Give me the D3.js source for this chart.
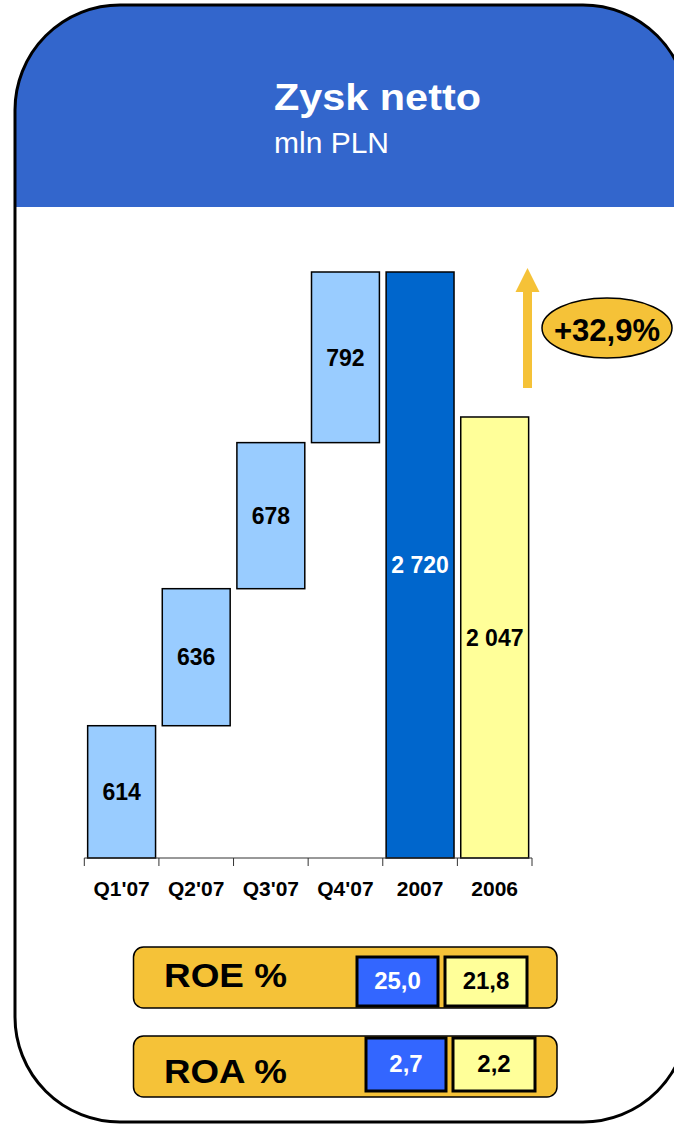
<!DOCTYPE html>
<html>
<head>
<meta charset="utf-8">
<script src="https://cdn.jsdelivr.net/npm/d3@7"></script>
<style>
  html, body { margin: 0; padding: 0; background: #fff; }
  svg { display: block; font-family: "Liberation Sans", Arial, sans-serif; }
</style>
</head>
<body>
<svg id="chart" width="674" height="1126"></svg>
<script>
// Net profit, PLN millions: quarterly waterfall for 2007 and yearly totals
const categories = ["Q1'07", "Q2'07", "Q3'07", "Q4'07", "2007", "2006"];
const quarterValues = [614, 636, 678, 792];
const totalValues = [2720, 2047];           // 2007, 2006
const growthLabel = "+32,9%";

// Return ratios shown below the chart
const ratioNames = ["ROE %", "ROA %"];
const ratios2007 = [25.0, 2.7];
const ratios2006 = [21.8, 2.2];

const titleText = "Zysk netto";
const subtitleText = "mln PLN";

const colors = {
  header: "#3366CC",
  quarter: "#99CCFF",
  y2007: "#0066CC",
  y2006: "#FFFF99",
  accent: "#F5C238",
  ratioBlue: "#3366FF"
};

const svg = d3.select("#chart");
const fmt = v => d3.format(".1f")(v).replace(".", ",");
const fmtThousands = v => {
  const s = String(v);
  return s.length > 3 ? s.slice(0, s.length - 3) + " " + s.slice(-3) : s;
};

// Panel frame with rounded corners and blue header
const frame = { x: 15, y: 5, w: 673, h: 1117, r: 105 };
svg.append("defs").append("clipPath").attr("id", "frameClip")
  .append("rect")
  .attr("x", frame.x).attr("y", frame.y)
  .attr("width", frame.w).attr("height", frame.h)
  .attr("rx", frame.r).attr("ry", frame.r);

svg.append("rect")
  .attr("x", frame.x).attr("y", frame.y)
  .attr("width", frame.w).attr("height", frame.h)
  .attr("rx", frame.r).attr("ry", frame.r)
  .attr("fill", "#fff");

svg.append("rect")
  .attr("clip-path", "url(#frameClip)")
  .attr("x", 0).attr("y", 0)
  .attr("width", 700).attr("height", 207)
  .attr("fill", colors.header);

svg.append("rect")
  .attr("x", frame.x).attr("y", frame.y)
  .attr("width", frame.w).attr("height", frame.h)
  .attr("rx", frame.r).attr("ry", frame.r)
  .attr("fill", "none").attr("stroke", "#000").attr("stroke-width", 3);

svg.append("text")
  .attr("x", 274).attr("y", 110)
  .attr("fill", "#fff").attr("font-size", 36).attr("font-weight", "bold")
  .attr("textLength", 207).attr("lengthAdjust", "spacingAndGlyphs")
  .text(titleText);
svg.append("text")
  .attr("x", 274).attr("y", 153)
  .attr("fill", "#fff").attr("font-size", 30)
  .text(subtitleText);

// Scales
const x = d3.scaleBand().domain(categories).range([84.3, 532]).paddingInner(0.09).paddingOuter(0.045);
const y = d3.scaleLinear().domain([0, 2720]).range([858, 272]);

// Build bar records: floating quarter bars then the two totals
let running = 0;
const bars = quarterValues.map((v, i) => {
  const rec = { cat: categories[i], start: running, end: running + v, value: v, fill: colors.quarter, text: "#000" };
  running += v;
  return rec;
});
bars.push({ cat: categories[4], start: 0, end: totalValues[0], value: totalValues[0], fill: colors.y2007, text: "#fff" });
bars.push({ cat: categories[5], start: 0, end: totalValues[1], value: totalValues[1], fill: colors.y2006, text: "#000" });

const g = svg.append("g");
g.selectAll("rect.bar").data(bars).join("rect")
  .attr("class", "bar")
  .attr("x", d => x(d.cat))
  .attr("y", d => y(d.end))
  .attr("width", x.bandwidth())
  .attr("height", d => y(d.start) - y(d.end))
  .attr("fill", d => d.fill)
  .attr("stroke", "#000").attr("stroke-width", 1.5);

g.selectAll("text.val").data(bars).join("text")
  .attr("class", "val")
  .attr("x", d => x(d.cat) + x.bandwidth() / 2)
  .attr("y", d => (y(d.start) + y(d.end)) / 2)
  .attr("dy", "0.36em")
  .attr("text-anchor", "middle")
  .attr("font-size", 23).attr("font-weight", "bold")
  .attr("fill", d => d.text)
  .text(d => fmtThousands(d.value));

// Category axis with tick marks between bands
const axisY = y(0);
g.append("line")
  .attr("x1", x.range()[0]).attr("x2", x.range()[1])
  .attr("y1", axisY).attr("y2", axisY)
  .attr("stroke", "#333").attr("stroke-width", 1);
const tickXs = categories.map(c => x(c) - x.step() * x.paddingInner() / 2);
tickXs[0] = x.range()[0];
tickXs.push(x.range()[1]);
g.selectAll("line.tick").data(tickXs).join("line")
  .attr("class", "tick")
  .attr("x1", d => d).attr("x2", d => d)
  .attr("y1", axisY).attr("y2", axisY + 8)
  .attr("stroke", "#333").attr("stroke-width", 1);
g.selectAll("text.cat").data(categories).join("text")
  .attr("class", "cat")
  .attr("x", d => x(d) + x.bandwidth() / 2)
  .attr("y", 896)
  .attr("text-anchor", "middle")
  .attr("font-size", 21).attr("font-weight", "bold")
  .text(d => d);

// Growth arrow and badge
const arrowX = 527.5;
const arrowTop = 268, headBase = 292, arrowBottom = y(totalValues[1]) - 29;
svg.append("rect")
  .attr("x", arrowX - 4.5).attr("y", headBase - 1)
  .attr("width", 9).attr("height", arrowBottom - headBase + 1)
  .attr("fill", colors.accent);
svg.append("path")
  .attr("d", `M${arrowX - 12},${headBase} L${arrowX},${arrowTop} L${arrowX + 12},${headBase} Z`)
  .attr("fill", colors.accent);
svg.append("ellipse")
  .attr("cx", 607).attr("cy", 328).attr("rx", 65).attr("ry", 30)
  .attr("fill", colors.accent).attr("stroke", "#000").attr("stroke-width", 1.5);
svg.append("text")
  .attr("x", 607).attr("y", 329.5).attr("dy", "0.36em")
  .attr("text-anchor", "middle")
  .attr("font-size", 31).attr("font-weight", "bold")
  .text(growthLabel);

// Ratio panels
const panels = [
  { name: ratioNames[0], v7: ratios2007[0], v6: ratios2006[0], y: 947, h: 61, labelY: 987,
    b1: [357, 957, 81, 49], b2: [445, 957, 82, 49] },
  { name: ratioNames[1], v7: ratios2007[1], v6: ratios2006[1], y: 1036, h: 61, labelY: 1083,
    b1: [366, 1038, 80, 53], b2: [453, 1038, 82, 53] }
];
const pg = svg.selectAll("g.ratio").data(panels).join("g").attr("class", "ratio");
pg.append("rect")
  .attr("x", 133.5).attr("y", d => d.y)
  .attr("width", 423.5).attr("height", d => d.h)
  .attr("rx", 10).attr("ry", 10)
  .attr("fill", colors.accent).attr("stroke", "#000").attr("stroke-width", 1.5);
pg.append("text")
  .attr("x", 164).attr("y", d => d.labelY)
  .attr("font-size", 34).attr("font-weight", "bold")
  .attr("textLength", 123).attr("lengthAdjust", "spacingAndGlyphs")
  .text(d => d.name);
pg.append("rect")
  .attr("x", d => d.b1[0]).attr("y", d => d.b1[1])
  .attr("width", d => d.b1[2]).attr("height", d => d.b1[3])
  .attr("fill", colors.ratioBlue).attr("stroke", "#000").attr("stroke-width", 3);
pg.append("rect")
  .attr("x", d => d.b2[0]).attr("y", d => d.b2[1])
  .attr("width", d => d.b2[2]).attr("height", d => d.b2[3])
  .attr("fill", colors.y2006).attr("stroke", "#000").attr("stroke-width", 3);
pg.append("text")
  .attr("x", d => d.b1[0] + d.b1[2] / 2).attr("y", d => d.b1[1] + d.b1[3] / 2 - 1)
  .attr("dy", "0.36em").attr("text-anchor", "middle")
  .attr("font-size", 24).attr("font-weight", "bold").attr("fill", "#fff")
  .text(d => fmt(d.v7));
pg.append("text")
  .attr("x", d => d.b2[0] + d.b2[2] / 2).attr("y", d => d.b2[1] + d.b2[3] / 2 - 1)
  .attr("dy", "0.36em").attr("text-anchor", "middle")
  .attr("font-size", 24).attr("font-weight", "bold").attr("fill", "#000")
  .text(d => fmt(d.v6));
</script>
</body>
</html>
